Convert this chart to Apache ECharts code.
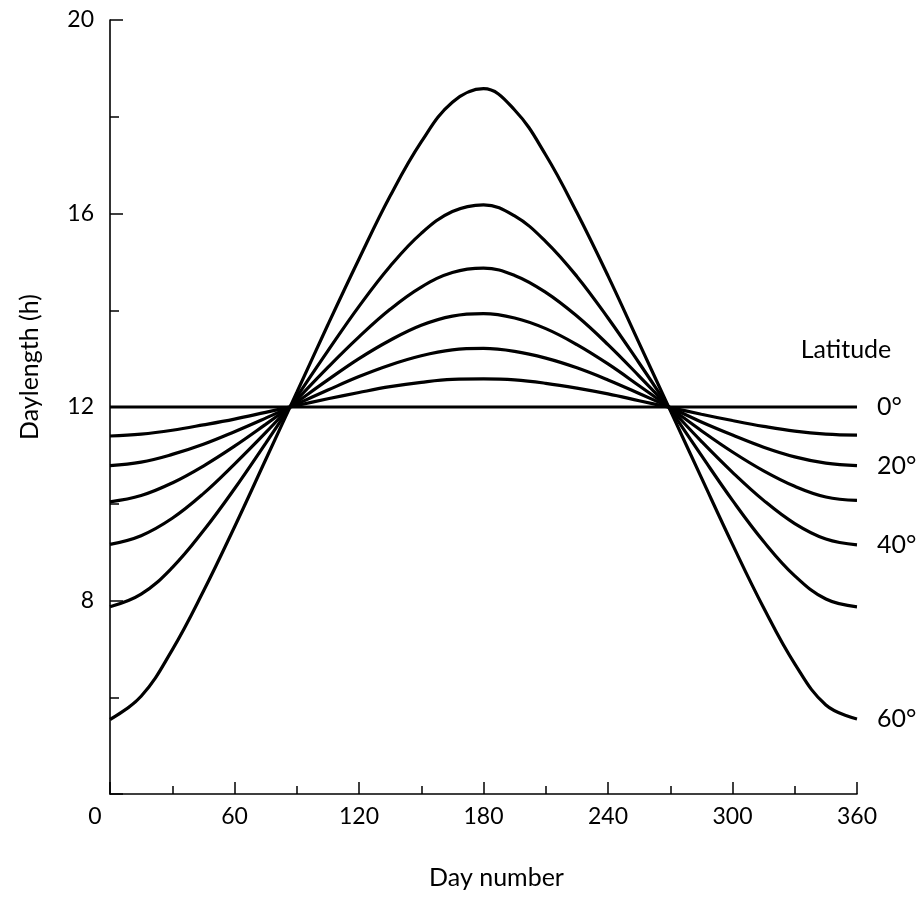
<!DOCTYPE html>
<html>
<head>
<meta charset="utf-8">
<title>Daylength by latitude</title>
<script src="https://cdn.jsdelivr.net/npm/echarts@6/dist/echarts.min.js"></script>
<style>
  html, body { margin: 0; padding: 0; background: #fff; }
  #chart { width: 923px; height: 897px; }
</style>
</head>
<body>
<div id="chart"></div>
<script>
// day number (x) and daylength in hours (y)
const days = [0, 15, 30, 45, 60, 75, 90, 105, 120, 135, 150, 165, 180,
  195, 210, 225, 240, 255, 270, 285, 300, 315, 330, 345, 360]

const lat0 = [12, 12, 12, 12, 12, 12, 12, 12, 12, 12, 12, 12, 12,
  12, 12, 12, 12, 12, 12, 12, 12, 12, 12, 12, 12]
const lat10 = [11.40, 11.44, 11.52, 11.63, 11.75, 11.89, 12.03, 12.17, 12.30, 12.42, 12.51, 12.57, 12.58,
  12.56, 12.49, 12.39, 12.27, 12.13, 11.99, 11.85, 11.72, 11.60, 11.50, 11.44, 11.42]
const lat20 = [10.79, 10.86, 11.02, 11.23, 11.49, 11.77, 12.06, 12.35, 12.63, 12.87, 13.06, 13.18, 13.21,
  13.15, 13.01, 12.81, 12.56, 12.28, 11.99, 11.69, 11.42, 11.17, 10.97, 10.84, 10.79]
const lat30 = [10.04, 10.17, 10.43, 10.78, 11.19, 11.64, 12.10, 12.56, 13.00, 13.38, 13.69, 13.88, 13.93,
  13.84, 13.62, 13.29, 12.89, 12.44, 11.98, 11.51, 11.07, 10.68, 10.36, 10.14, 10.07]
const lat40 = [9.16, 9.34, 9.70, 10.21, 10.82, 11.47, 12.15, 12.82, 13.45, 14.02, 14.48, 14.78, 14.87,
  14.72, 14.37, 13.88, 13.29, 12.64, 11.97, 11.29, 10.65, 10.07, 9.59, 9.27, 9.15]
const lat50 = [7.87, 8.13, 8.68, 9.44, 10.31, 11.25, 12.21, 13.16, 14.08, 14.91, 15.59, 16.04, 16.18,
  15.95, 15.42, 14.70, 13.84, 12.91, 11.95, 11.00, 10.07, 9.22, 8.51, 8.03, 7.87]
const lat60 = [5.54, 6.02, 6.98, 8.19, 9.52, 10.91, 12.30, 13.70, 15.06, 16.36, 17.48, 18.30, 18.58,
  18.14, 17.21, 16.02, 14.71, 13.32, 11.93, 10.54, 9.16, 7.85, 6.69, 5.84, 5.55]

const curves = [
  { name: '0°', values: lat0, label: true },
  { name: '10°', values: lat10, label: false },
  { name: '20°', values: lat20, label: true },
  { name: '30°', values: lat30, label: false },
  { name: '40°', values: lat40, label: true },
  { name: '50°', values: lat50, label: false },
  { name: '60°', values: lat60, label: true },
]

const yLabels = [8, 12, 16, 20]

const FONT = 'Lato, "Open Sans", sans-serif'
const INK = '#000'

const chart = echarts.init(document.getElementById('chart'), null, { renderer: 'canvas' })

const series = curves.map(c => ({
  name: c.name,
  type: 'line',
  data: days.map((d, i) => [d, c.values[i]]),
  smooth: 0.4,
  symbol: 'none',
  lineStyle: { color: INK, width: 3.2 },
  endLabel: {
    show: c.label,
    formatter: c.name,
    distance: 20,
    color: INK,
    fontFamily: FONT,
    fontSize: 25,
  },
  emphasis: { disabled: true },
  z: 3,
}))

chart.setOption({
  animation: false,
  grid: { left: 110, right: 66, top: 20, bottom: 103 },
  xAxis: {
    type: 'value',
    min: 0,
    max: 360,
    interval: 60,
    name: 'Day number',
    nameLocation: 'middle',
    nameGap: 71,
    nameTextStyle: { color: INK, fontFamily: FONT, fontSize: 25, padding: [0, 0, 0, 26] },
    axisLine: { lineStyle: { color: INK, width: 1.6 } },
    axisTick: { inside: true, length: 12, lineStyle: { color: INK, width: 1.5 } },
    minorTick: { show: true, splitNumber: 2, length: 8, lineStyle: { color: INK, width: 1.5 } },
    splitLine: { show: false },
    axisLabel: {
      color: INK,
      fontFamily: FONT,
      fontSize: 23,
      margin: 11,
      formatter: v => (v === 0 ? '{z|0}' : String(v)),
      rich: { z: { fontFamily: FONT, fontSize: 23, color: INK, padding: [0, 30, 0, 0] } },
    },
  },
  yAxis: {
    type: 'value',
    min: 4,
    max: 20,
    interval: 4,
    axisLine: { show: true, lineStyle: { color: INK, width: 1.6 } },
    axisTick: { show: true, inside: true, length: 13, lineStyle: { color: INK, width: 1.5 } },
    minorTick: { show: true, splitNumber: 2, length: 9, lineStyle: { color: INK, width: 1.5 } },
    splitLine: { show: false },
    axisLabel: {
      color: INK,
      fontFamily: FONT,
      fontSize: 23,
      margin: 16,
      formatter: v => (yLabels.includes(v) ? String(v) : ''),
    },
  },
  graphic: [
    {
      type: 'text',
      x: 30,
      y: 367,
      rotation: Math.PI / 2,
      style: {
        text: 'Daylength (h)',
        fill: INK,
        font: '25px ' + FONT,
        align: 'center',
        verticalAlign: 'middle',
      },
    },
    {
      type: 'text',
      x: 846,
      y: 350,
      style: {
        text: 'Latitude',
        fill: INK,
        font: '25px ' + FONT,
        align: 'center',
        verticalAlign: 'middle',
      },
    },
  ],
  series,
})

window.addEventListener('resize', () => chart.resize())
</script>
</body>
</html>
